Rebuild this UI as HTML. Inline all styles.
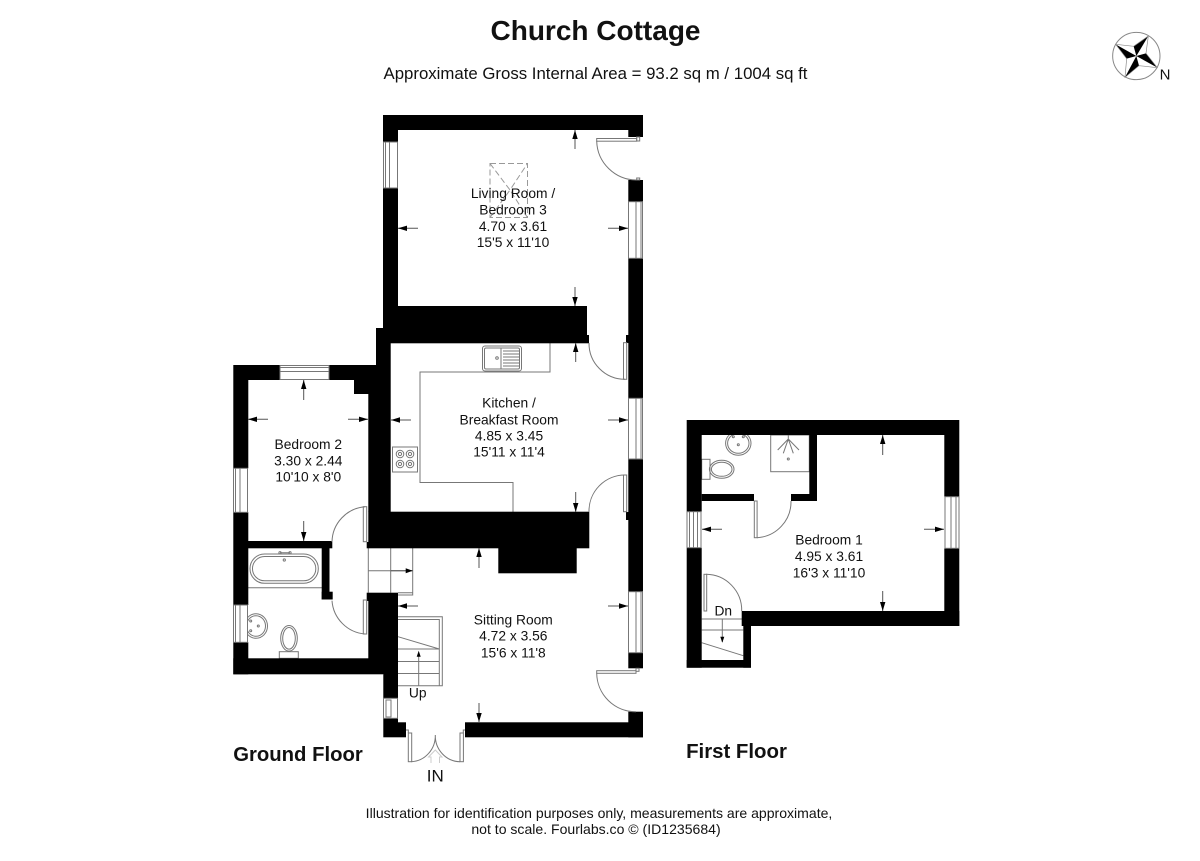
<!DOCTYPE html>
<html><head><meta charset="utf-8"><style>
html,body{margin:0;padding:0;background:#fff}
svg{display:block}
text{font-family:"Liberation Sans",sans-serif;fill:#111;text-anchor:middle}
.r{font-size:13.8px}
.w{fill:#000}
.l{fill:none;stroke:#777;stroke-width:1}
.win{fill:#fff;stroke:#777;stroke-width:1}
.a{stroke:#555;stroke-width:1;fill:none}
.h{fill:#000}
</style></head><body>
<svg width="1200" height="861" viewBox="0 0 1200 861" xmlns="http://www.w3.org/2000/svg">
<rect width="1200" height="861" fill="#fff"/>
<text x="595.5" y="40" font-size="28" font-weight="bold">Church Cottage</text>
<text x="595.5" y="79" font-size="16.8">Approximate Gross Internal Area = 93.2 sq m / 1004 sq ft</text>

<!-- compass -->
<g transform="translate(1100,20) scale(.3333)">
<circle cx="109" cy="108" r="71" fill="#fff" stroke="#888" stroke-width="3"/>
<g fill="#000" stroke="none">
<polygon points="109,108 47,73 80,116"/>
<polygon points="109,108 145,48 101,79"/>
<polygon points="109,108 172,143 138,100"/>
<polygon points="109,108 75,172 117,137"/>
</g>
<g fill="none" stroke="#888" stroke-width="2">
<polygon points="47,73 101,79 145,48 138,100 172,143 117,137 75,172 80,116"/>
</g>
</g>
<text x="1165" y="79.7" font-size="15">N</text>

<!-- floor fittings (lines) -->
<g class="l">
<!-- skylight -->
<g stroke-dasharray="6 3" stroke="#999">
<rect x="490" y="163.5" width="37.5" height="54"/>
<path d="M490 163.5L510 190L527.5 163.5M490 217.5L510 190L527.5 217.5"/>
</g>
<!-- kitchen counter -->
<path d="M550 343V372H420V482.5H513V512"/>
<rect x="482.5" y="346" width="39" height="25" rx="2.5"/>
<rect x="484.5" y="348" width="35" height="21" rx="1.5"/>
<path d="M501 348V369M503 351H519M503 354H519M503 357H519M503 360H519M503 363H519M503 366H519"/>
<circle cx="497" cy="358" r="1.3"/>
<rect x="392.5" y="447" width="25" height="25"/>
<circle cx="400" cy="454" r="3.8"/><circle cx="410" cy="454" r="3.8"/><circle cx="400" cy="464" r="3.8"/><circle cx="410" cy="464" r="3.8"/>
<circle cx="400" cy="454" r="1.6"/><circle cx="410" cy="454" r="1.6"/><circle cx="400" cy="464" r="1.6"/><circle cx="410" cy="464" r="1.6"/>
<!-- hall tiles -->
<path d="M390.7 548V592.7M412.7 548V592.7H398M412.7 592.7V595H398M368.3 548V592.7M368.3 570.7H412.7"/>
<!-- stairs -->
<path d="M398 616.7H442.3V685.7H398M398 619.5H439.3V685.7"/>
<path d="M398 636.7L439.3 649M398 649H439.3M398 661.5H439.3M398 673.5H439.3M418.7 685.7V655"/>
<!-- bath -->
<rect x="250" y="554" width="68.3" height="29.3" rx="14.6"/>
<rect x="252.5" y="556.5" width="63.3" height="24.3" rx="12.1"/>
<path d="M248 587.7H322M280 552.7H290"/>
<circle cx="280" cy="552.7" r="1.1"/><circle cx="290" cy="552.7" r="1.1"/>
<circle cx="284.3" cy="560" r="1.1"/>
<ellipse cx="256" cy="626" rx="11.5" ry="12.3"/>
<ellipse cx="256" cy="626" rx="9.5" ry="10.3"/>
<circle cx="250.7" cy="621" r="1"/><circle cx="250.7" cy="630.7" r="1"/>
<circle cx="258.3" cy="626" r="1"/>
<ellipse cx="289" cy="638.3" rx="8.3" ry="12.8"/><ellipse cx="289" cy="638.3" rx="6.3" ry="10.8"/>
<rect x="279.3" y="651.7" width="19" height="6.6"/>
<!-- first floor fittings -->
<rect x="770.7" y="435" width="38.6" height="36.7"/>
<path d="M788.3 435V441M788.3 439L777.7 450M788.3 439L783.3 453.3M788.3 439L793.3 453.3M788.3 439L799 450"/>
<circle cx="788.3" cy="459" r="1"/>
<ellipse cx="738.3" cy="443.3" rx="12.7" ry="12"/>
<ellipse cx="738.3" cy="443.3" rx="10.7" ry="10"/>
<circle cx="733.3" cy="436.7" r="1"/><circle cx="743.3" cy="436.7" r="1"/>
<circle cx="738.3" cy="444.7" r="1"/>
<rect x="701.7" y="459.3" width="8.3" height="20"/>
<ellipse cx="721.7" cy="469.3" rx="12.3" ry="9"/><ellipse cx="721.7" cy="469.3" rx="10.3" ry="7"/>
<!-- first stair -->
<path d="M701.7 619H743.3M701.7 630H743.3M701.7 642.7L743.3 655.7M722.3 619V642"/>
</g>

<!-- walls -->
<g class="w">
<rect x="383" y="115" width="260" height="15"/>
<rect x="383" y="130" width="15" height="12"/>
<rect x="628.3" y="130" width="14.7" height="7"/>
<rect x="383" y="188" width="15" height="140"/>
<rect x="383" y="306" width="204" height="29"/>
<rect x="376" y="335" width="213" height="8.3"/>
<rect x="376" y="328" width="14.7" height="37"/>
<rect x="233.3" y="365" width="46.7" height="15"/>
<rect x="329" y="365" width="61.7" height="15"/>
<rect x="354" y="380" width="15" height="14"/>
<rect x="368.3" y="380" width="22.4" height="132"/>
<rect x="368.3" y="511.7" width="221" height="30.3"/>
<rect x="366.7" y="542" width="222.6" height="6.3"/>
<rect x="498.3" y="548" width="78.4" height="25.3"/>
<rect x="628.3" y="180" width="14.7" height="21.7"/>
<rect x="628.3" y="258.3" width="14.7" height="140"/>
<rect x="628.3" y="459" width="14.7" height="132.7"/>
<rect x="628.3" y="652.7" width="14.7" height="15.6"/>
<rect x="628.3" y="711.7" width="14.7" height="25.6"/>
<rect x="626" y="335" width="3" height="8"/>
<rect x="626" y="512" width="3" height="8"/>
<rect x="465" y="722.3" width="178" height="15"/>
<rect x="366.7" y="592.7" width="31.3" height="8.3"/>
<rect x="368.3" y="601" width="29.7" height="73"/>
<rect x="383.3" y="674" width="14.7" height="24.3"/>
<rect x="383.3" y="718.3" width="14.7" height="19"/>
<rect x="398" y="722.3" width="8" height="15"/>
<rect x="233.3" y="380" width="15" height="88.3"/>
<rect x="233.3" y="512.3" width="15" height="92.7"/>
<rect x="233.3" y="642.3" width="15" height="32"/>
<rect x="233.3" y="658.3" width="150" height="16"/>
<rect x="248" y="541" width="84.3" height="7.3"/>
<rect x="321.7" y="548" width="7.8" height="51.5"/>
<rect x="321.7" y="591.7" width="11" height="7.8"/>
<!-- first floor -->
<rect x="686.7" y="420" width="272.6" height="15"/>
<rect x="686.7" y="435" width="15" height="76.7"/>
<rect x="686.7" y="547.7" width="15" height="120"/>
<rect x="944.3" y="435" width="15" height="61.7"/>
<rect x="944.3" y="548.3" width="15" height="77.7"/>
<rect x="741.7" y="611" width="217.6" height="15"/>
<rect x="743.3" y="626" width="7.7" height="41.7"/>
<rect x="686.7" y="660" width="64.3" height="7.7"/>
<rect x="809.3" y="435" width="7.7" height="66"/>
<rect x="701.7" y="494" width="52.3" height="7"/>
<rect x="791" y="494" width="26" height="7"/>
</g>

<!-- windows -->
<g class="win">
<rect x="383.5" y="142" width="14" height="46"/><path d="M385.5 142V188M389.5 142V188"/>
<rect x="628.5" y="201.7" width="14" height="56.6"/><path d="M636 201.7V258.3M641 201.7V258.3"/>
<rect x="628.5" y="398.3" width="14" height="60.7"/><path d="M636 398.3V459M641 398.3V459"/>
<rect x="628.5" y="591.7" width="14" height="61"/><path d="M636 591.7V652.7M641 591.7V652.7"/>
<rect x="383.5" y="698.3" width="14" height="20"/><rect x="386" y="700" width="5" height="17"/>
<rect x="280" y="365.5" width="49" height="14"/><path d="M280 367.5H329M280 371.5H329"/>
<rect x="233.5" y="468.3" width="14" height="44"/><path d="M235.5 468.3V512.3M240 468.3V512.3"/>
<rect x="233.5" y="605" width="14" height="37.3"/><path d="M235.5 605V642.3M240 605V642.3"/>
<rect x="687" y="511.7" width="14" height="36"/><path d="M689.5 511.7V547.7M693.5 511.7V547.7M697.5 511.7V547.7"/>
<rect x="945" y="496.7" width="14" height="51.6"/><path d="M951 496.7V548.3M956 496.7V548.3"/>
</g>

<!-- doors -->
<g class="l">
<rect x="596.7" y="138.5" width="40" height="2.7"/>
<rect x="636.7" y="137" width="3" height="4"/>
<rect x="636.7" y="178" width="3" height="2"/>
<path d="M596.7 141A40 40 0 0 0 636.7 180"/>
<rect x="623.5" y="342.7" width="3.2" height="36.6"/>
<path d="M589 343A36 36 0 0 0 625 379.3"/>
<rect x="623.5" y="475" width="3.2" height="36.7"/>
<path d="M625 475A36 36 0 0 0 589 511.7"/>
<rect x="363.3" y="506.7" width="3.4" height="35"/>
<path d="M365 506.7A36 36 0 0 0 332 542"/>
<rect x="363.3" y="600" width="3.4" height="34"/>
<path d="M332 600.7A36 36 0 0 0 365 634"/>
<rect x="596.7" y="670.7" width="39.3" height="2.6"/>
<rect x="636" y="668.3" width="3" height="3"/>
<path d="M596.7 673.3A39 39 0 0 0 636 711.7"/>
<rect x="408.3" y="733" width="3.4" height="28.7"/>
<path d="M406 730H408.3V733M465 730H463.3V733"/>
<rect x="460" y="733" width="3.4" height="28.7"/>
<path d="M411.3 761.7A25 26 0 0 0 435.3 735A25 26 0 0 0 460 761.7"/>
<path d="M431 763V757H428.5L435.3 750L442 757H439.5V763" stroke="#ccc"/>
<rect x="754.3" y="501" width="2.8" height="36.7"/>
<path d="M757 537.7A36 36 0 0 0 791 501"/>
<rect x="704" y="574.3" width="2.7" height="36.7"/>
<path d="M706 574.3A36 36 0 0 1 741.7 611"/>
</g>

<!-- dimension arrows -->
<g class="a">
<path d="M575 130V149M575 306V287M398 228.3H418M628 228.3H608"/>
<path d="M575.7 343V362M575.7 512V492M391 420H411M628 420H608"/>
<path d="M303.7 380V400M303.7 541V521M248 419.3H268M368 419.3H348"/>
<path d="M479 548V568M479 722V703M398 606H418M628 606H608M390.7 570.7H412.7"/>
<path d="M882.7 435V455M882.7 611V591M702 529.3H722M944 529.3H924"/>
</g>
<g class="h">
<path d="M575 130l-2.7 9h5.4zM575 306l-2.7-9h5.4zM398 228.3l9-2.7v5.4zM628 228.3l-9-2.7v5.4z"/>
<path d="M575.7 343l-2.7 9h5.4zM575.7 512l-2.7-9h5.4zM391 420l9-2.7v5.4zM628 420l-9-2.7v5.4z"/>
<path d="M303.7 380l-2.7 9h5.4zM303.7 541l-2.7-9h5.4zM248 419.3l9-2.7v5.4zM368 419.3l-9-2.7v5.4z"/>
<path d="M479 548l-2.7 9h5.4zM479 722l-2.7-9h5.4zM398 606l9-2.7v5.4zM628 606l-9-2.7v5.4zM412.7 570.7l-7-2.5v5z"/>
<path d="M882.7 435l-2.7 9h5.4zM882.7 611l-2.7-9h5.4zM702 529.3l9-2.7v5.4zM944 529.3l-9-2.7v5.4z"/>
<path d="M418.7 650.7l-2 6h4zM722.3 642.7l-2-6h4z"/>
</g>

<!-- room labels -->
<g>
<text x="513" y="198" class="r">Living Room /</text>
<text x="513" y="214.5" class="r">Bedroom 3</text>
<text x="513" y="231" class="r">4.70 x 3.61</text>
<text x="513" y="247" class="r">15'5 x 11'10</text>
<text x="509" y="407.7" class="r">Kitchen /</text>
<text x="509" y="424.3" class="r">Breakfast Room</text>
<text x="509" y="440.5" class="r">4.85 x 3.45</text>
<text x="509" y="456.7" class="r">15'11 x 11'4</text>
<text x="308.3" y="449" class="r">Bedroom 2</text>
<text x="308.3" y="465.3" class="r">3.30 x 2.44</text>
<text x="308.3" y="481.7" class="r">10'10 x 8'0</text>
<text x="513.3" y="624.3" class="r">Sitting Room</text>
<text x="513.3" y="640.7" class="r">4.72 x 3.56</text>
<text x="513.3" y="657.3" class="r">15'6 x 11'8</text>
<text x="829" y="544.3" class="r">Bedroom 1</text>
<text x="829" y="561" class="r">4.95 x 3.61</text>
<text x="829" y="577.3" class="r">16'3 x 11'10</text>
<text x="417.7" y="697.7" class="r">Up</text>
<text x="723.3" y="615.5" class="r">Dn</text>
</g>
<text x="435.3" y="781.7" font-size="17">IN</text>
<text x="298" y="761" font-size="20.3" font-weight="bold">Ground Floor</text>
<text x="736.5" y="758" font-size="20.4" font-weight="bold">First Floor</text>
<text x="599" y="818" font-size="14.05">Illustration for identification purposes only, measurements are approximate,</text>
<text x="596" y="834" font-size="14.05">not to scale. Fourlabs.co © (ID1235684)</text>
</svg>
</body></html>
